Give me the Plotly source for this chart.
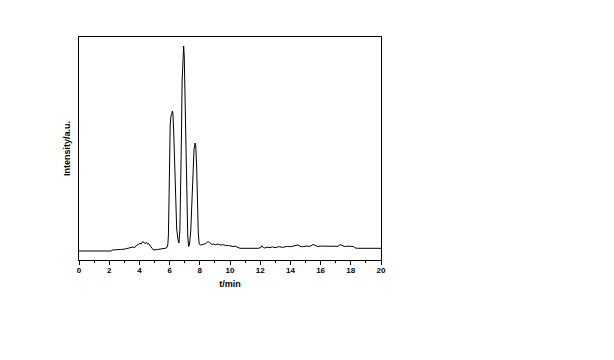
import plotly.graph_objects as go

# Chromatogram: retention time (min) and intensity (a.u.)
time_min = [0.0, 2.15, 2.2, 2.7, 2.75, 3.05, 3.2, 3.38, 3.58, 3.7, 3.8, 3.92, 4.04, 4.12,
            4.22, 4.3, 4.37, 4.48, 4.55, 4.6, 4.7, 4.78,
            4.85, 4.92, 5.2, 5.5, 5.7, 5.8, 5.88, 5.92, 5.96, 6.0, 6.04, 6.09, 6.13,
            6.18, 6.22, 6.27, 6.33, 6.4, 6.47, 6.55, 6.62, 6.68, 6.73, 6.78, 6.83,
            6.88, 6.93, 6.97, 7.02, 7.08, 7.14, 7.2, 7.26, 7.32, 7.4, 7.48, 7.55,
            7.62, 7.69, 7.73, 7.79, 7.85, 7.9, 7.96, 8.05, 8.2, 8.4, 8.5, 8.56, 8.65, 8.7,
            8.8, 8.9, 9.05, 9.2, 9.35, 9.56, 9.7, 9.9, 10.05, 10.2, 10.35, 10.5, 10.66,
            11.0, 11.5, 11.87, 12.05, 12.1, 12.2, 12.3, 12.45, 12.65, 12.8, 12.98,
            13.15, 13.3, 13.45, 13.6, 13.8, 14.0, 14.2, 14.5, 14.65, 14.8, 15.1, 15.3,
            15.5, 15.65, 15.8, 16.0, 16.3, 16.5, 16.7, 17.0, 17.15, 17.3, 17.45,
            17.6, 17.8, 18.0, 18.17, 18.3, 18.5, 20.0]
intensity = [10, 10, 11, 11, 11.5, 12, 12.5, 13.3, 14, 13.5, 15.5, 16.5, 17.7, 16.8,
             19.3, 18.5, 17.5, 18.5, 16.8, 17.5, 16, 14,
             12.5, 11, 11.5, 12, 12.5, 13, 16, 25, 60, 110, 136, 145, 146,
             150, 148, 130, 95, 55, 32, 22, 18, 30, 60, 120, 180,
             208, 215, 205, 165, 100, 50, 25, 14.5, 17, 30, 60, 95,
             112, 118, 116, 95, 55, 28, 17, 16, 16.5, 17.5, 19, 19.3, 18.5, 17.5,
             16.5, 17, 16.2, 17, 16, 16.3, 15.5, 15.5, 14.8, 14.5, 14.8, 13.5, 12.7,
             12.7, 12.7, 12.7, 13.5, 15.3, 13.5, 13, 13.8, 13.3, 14.2, 13.3,
             14, 14.3, 13.6, 14, 14.6, 14.3, 14.8, 16, 14.6, 14.3, 15, 14.6,
             16.5, 15.2, 14.5, 14.9, 15, 14.4, 14.5, 15, 14.7, 16.3, 15.1,
             14.5, 14.8, 14.3, 14.5, 13, 12.7, 12.7]

x_ticks = [0, 2, 4, 6, 8, 10, 12, 14, 16, 18, 20]

fig = go.Figure()
fig.add_trace(go.Scatter(x=time_min, y=intensity, mode="lines",
                         line=dict(color="black", width=1), showlegend=False,
                         hoverinfo="skip"))

fig.update_layout(
    width=614, height=360,
    margin=dict(l=79, r=233, t=37, b=100),
    paper_bgcolor="white", plot_bgcolor="white",
    font=dict(family="Liberation Sans", color="black"),
)
fig.update_xaxes(
    range=[0, 20], tickvals=x_ticks, ticktext=[str(v) for v in x_ticks],
    ticks="outside", ticklen=4, tickwidth=1, tickcolor="black",
    ticklabelstandoff=-2,
    minor=dict(dtick=1, ticks="outside", ticklen=2, tickcolor="black", tickwidth=1, showgrid=False),
    showline=True, linecolor="black", linewidth=1, mirror=True,
    showgrid=False, zeroline=False,
    tickfont=dict(size=8, weight="bold"),
    title=dict(text="t/min", font=dict(size=9, weight="bold"), standoff=7),
)
fig.update_yaxes(
    range=[1, 224], showticklabels=False, ticks="",
    showline=True, linecolor="black", linewidth=1, mirror=True,
    showgrid=False, zeroline=False,
    title=dict(text="Intensity/a.u.", font=dict(size=9, weight="bold"), standoff=5),
)

fig.write_html("out.html")
